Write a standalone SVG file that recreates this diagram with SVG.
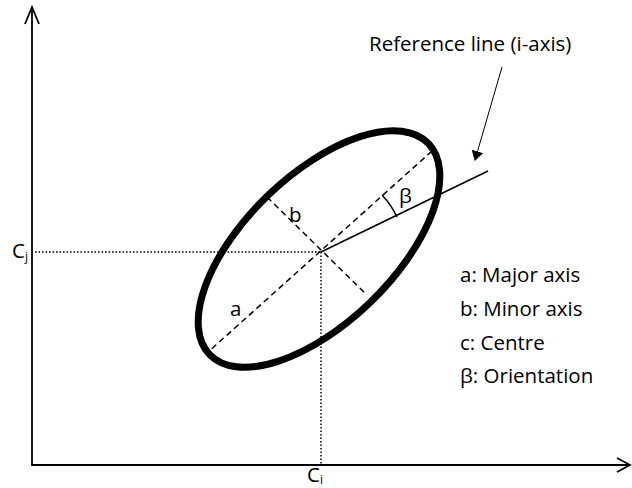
<svg xmlns="http://www.w3.org/2000/svg" width="632" height="488" viewBox="0 0 632 488">
<style>
.ax{stroke:#000;stroke-width:1.8;fill:none}
.dot{stroke:#000;stroke-width:1.5;stroke-dasharray:1.6 1.9;fill:none}
.dash{stroke:#000;stroke-width:1.5;stroke-dasharray:6 4;fill:none}
.t{font-family:"Open Sans","Liberation Sans",Arial,sans-serif;font-size:20.5px;fill:#000}
</style>
<defs>
<marker id="ah" markerWidth="10" markerHeight="12" refX="9" refY="6" orient="auto" markerUnits="userSpaceOnUse">
<path d="M0,0 L10,6 L0,12 z" fill="#000"/>
</marker>
</defs>
<rect width="632" height="488" fill="#fff"/>
<g id="connectors">
<line class="ax" x1="32" y1="465" x2="32" y2="7"/>
<polyline class="ax" points="25,24 32,7 39,24"/>
<line class="ax" x1="31" y1="465" x2="630" y2="465"/>
<polyline class="ax" points="617,458 630,465 617,472"/>
<line class="dot" x1="35" y1="252" x2="321" y2="252"/>
<line class="dot" x1="321" y1="252" x2="321" y2="464"/>
<line class="dash" x1="432" y1="151" x2="207" y2="353"/>
<line class="dash" x1="267" y1="197" x2="367" y2="295"/>
<line stroke="#000" stroke-width="1.6" x1="321" y1="252" x2="488" y2="171"/>
<path d="M382,195 A84,84 0 0 1 397,217" stroke="#000" stroke-width="1.5" fill="none"/>
<line stroke="#000" stroke-width="1" x1="502" y1="67" x2="475" y2="160" marker-end="url(#ah)"/>
</g>
<g id="ellipse">
<ellipse cx="319" cy="249" rx="152" ry="74" transform="rotate(-44 319 249)" fill="none" stroke="#000" stroke-width="7"/>
</g>
<g id="labels">
<text class="t" x="369" y="51">Reference line (i-axis)</text>
<text class="t" x="399" y="203">β</text>
<text class="t" x="289" y="222">b</text>
<text class="t" x="230" y="316">a</text>
<text class="t" x="12" y="258">C<tspan font-size="12" dy="3">j</tspan></text>
<text class="t" x="307" y="482">C<tspan font-size="12" dy="2">i</tspan></text>
</g>
<g id="legend">
<text class="t" x="460" y="282">a: Major axis</text>
<text class="t" x="460" y="316">b: Minor axis</text>
<text class="t" x="460" y="350">c: Centre</text>
<text class="t" x="460" y="383">β: Orientation</text>
</g>
</svg>
